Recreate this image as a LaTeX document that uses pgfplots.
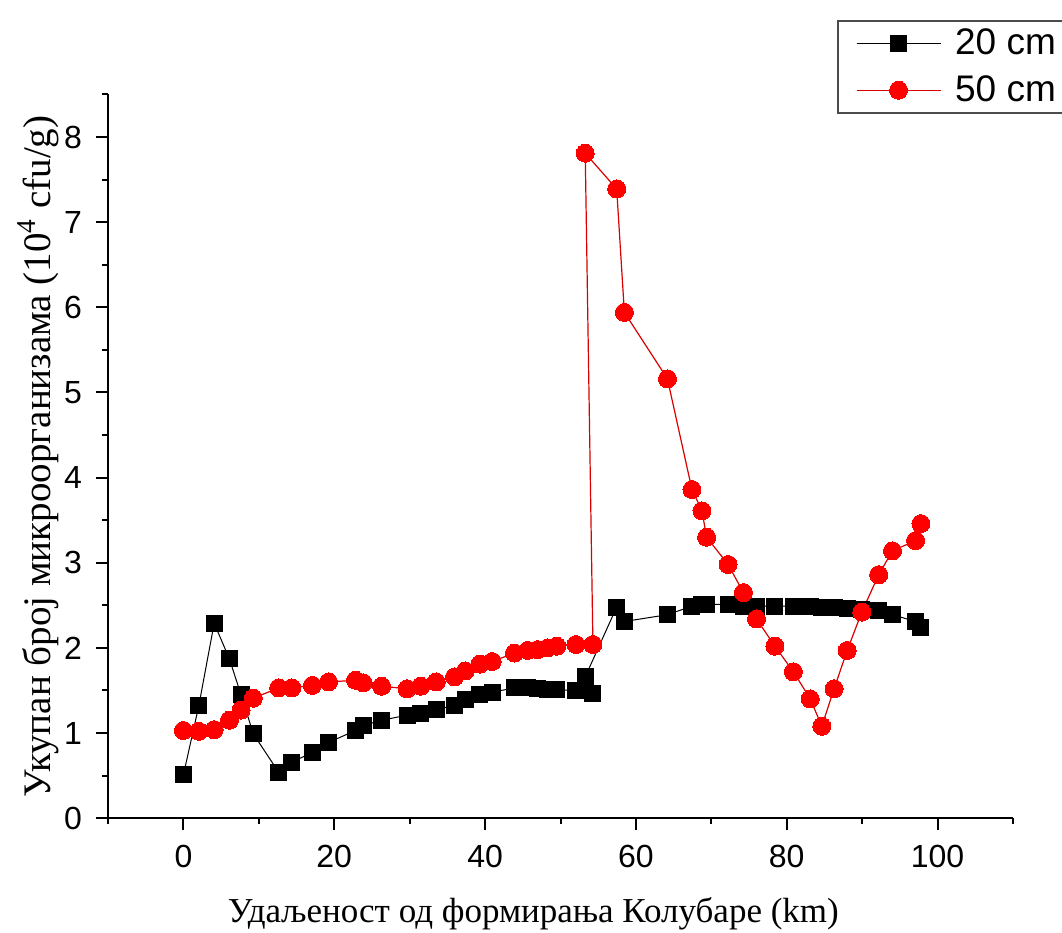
\documentclass[border=0pt]{standalone}
\usepackage{fontspec}
\setmainfont{Liberation Serif}
\newfontfamily\arial{Liberation Sans}
\usepackage{pgfplots}
\usepackage{pgfplotstable}
\pgfplotsset{compat=1.18}

\pgfplotstableread{
x y
0.0 0.51
2.04 1.32
4.08 2.29
6.1 1.87
7.64 1.45
9.27 0.99
12.63 0.54
14.36 0.66
17.11 0.77
19.25 0.89
22.82 1.03
23.84 1.09
26.28 1.15
29.65 1.21
31.48 1.23
33.52 1.28
35.96 1.32
37.39 1.39
39.32 1.45
40.95 1.48
43.9 1.53
45.64 1.53
46.96 1.52
48.29 1.51
49.51 1.51
52.05 1.50
54.3 1.47
53.28 1.66
57.45 2.48
58.47 2.31
64.18 2.39
67.43 2.49
68.76 2.51
69.37 2.51
72.22 2.51
74.26 2.49
75.99 2.49
78.43 2.49
80.88 2.49
83.12 2.49
84.65 2.48
86.28 2.47
88.01 2.46
89.95 2.45
92.19 2.44
94.02 2.39
97.08 2.31
97.79 2.24
}\tabA

\pgfplotstableread{
x y
0.0 1.03
2.04 1.02
4.08 1.04
6.1 1.15
7.64 1.27
9.27 1.41
12.63 1.53
14.36 1.53
17.11 1.56
19.25 1.60
22.82 1.62
23.84 1.59
26.28 1.55
29.65 1.52
31.48 1.55
33.52 1.60
35.96 1.66
37.39 1.73
39.32 1.81
40.95 1.84
43.9 1.94
45.64 1.97
46.96 1.98
48.29 2.00
49.51 2.02
52.05 2.04
54.3 2.04
53.28 7.81
57.45 7.39
58.47 5.94
64.18 5.16
67.43 3.86
68.76 3.61
69.37 3.30
72.22 2.98
74.26 2.65
75.99 2.34
78.43 2.02
80.88 1.72
83.12 1.40
84.65 1.08
86.28 1.52
88.01 1.97
89.95 2.42
92.19 2.86
94.02 3.14
97.08 3.26
97.79 3.46
}\tabB

\begin{document}
\begin{tikzpicture}
\begin{axis}[
  name=ax,
  scale only axis,
  width=452.5pt, height=361.9pt,
  xmin=-10, xmax=110, ymin=0, ymax=8.5,
  axis x line*=bottom, axis y line*=left,
  axis line style={line width=1pt, -},
  xtick={0,20,...,100}, minor xtick={-10,10,30,50,70,90,110},
  ytick={0,1,...,8}, minor ytick={0.5,1.5,...,8.5},
  tick align=outside,
  major tick length=6pt, minor tick length=3pt,
  every tick/.style={black, line width=1pt},
  tick label style={font=\arial\fontsize{16}{19}\selectfont},
  xticklabel style={yshift=-4pt},
  yticklabel style={xshift=-3.5pt},
  /pgf/number format/assume math mode=true,
  xlabel={Удаљеност од формирања Колубаре (km)},
  ylabel={Укупан број микроорганизама (10\textsuperscript{4} cfu/g)},
  xlabel style={font=\fontsize{17.5}{21}\selectfont, at={(rel axis cs:0.47,-0.1437)}, anchor=base},
  ylabel style={font=\fontsize{19.5}{23}\selectfont, at={(rel axis cs:-0.064,0.5)}, anchor=base},
  legend style={at={(rel axis cs:0.8055,1.103)}, anchor=north west,
    draw=black!70, line width=1pt, font=\arial\fontsize{18.5}{22}\selectfont,
    inner xsep=9pt, inner ysep=2pt, row sep=5pt},
  legend cell align=left,
  legend image code/.code={
    \draw[mark repeat=2,mark phase=2] plot coordinates {(0pt,0pt) (21pt,0pt) (42pt,0pt)};
    \path (47pt,0pt);
  },
]
\addplot[black, line width=0.5pt, mark=square*, mark size=4pt, mark options={solid, fill=black, line width=0pt}] table[x=x,y=y] {\tabA};
\addlegendentry{20 cm}
\addplot[red!85!black, line width=0.6pt, mark=*, mark size=4.5pt, mark options={solid, fill=red, draw=red, line width=0pt}] table[x=x,y=y] {\tabB};
\addlegendentry{50 cm}
\end{axis}
\pgfresetboundingbox
\path[use as bounding box] (ax.south west) ++(-54pt,-57.4pt) rectangle ++(531pt,466.5pt);
\end{tikzpicture}
\end{document}
